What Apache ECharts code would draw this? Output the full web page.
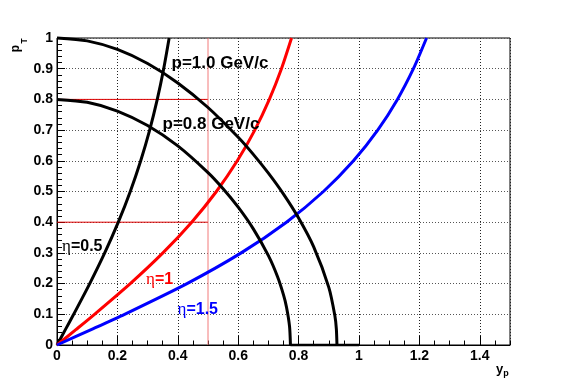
<!DOCTYPE html>
<html>
<head>
<meta charset="utf-8">
<script src="https://cdn.jsdelivr.net/npm/echarts@6/dist/echarts.min.js"></script>
<style>html,body{margin:0;padding:0;background:#fff;}#c{width:567px;height:384px;}</style>
</head>
<body>
<div id="c"></div>
<script>
// ---- data ----
// constant-eta curves: pT samples and matching rapidity y_p
const ptSteps = [0, 0.05, 0.1, 0.2, 0.3, 0.4, 0.5, 0.6, 0.7, 0.8, 0.9, 1.0];
const eta05Y = [0, 0.0277, 0.0552, 0.1084, 0.1580, 0.2030, 0.2427, 0.2772, 0.3068, 0.3320, 0.3533, 0.3714];
const eta10Y = [0, 0.0625, 0.1242, 0.2426, 0.3507, 0.4460, 0.5278, 0.5970, 0.6549, 0.7031, 0.7432, 0.7766];
const eta15Y = [0, 0.1131, 0.2238, 0.4305, 0.6099, 0.7598, 0.8823, 0.9817, 1.0620, 1.1272, 1.1802, 1.2237];
// constant-momentum curves
const p10Y  = [0, 0.1, 0.2, 0.3, 0.4, 0.5, 0.6, 0.65, 0.7, 0.75, 0.8, 0.85, 0.9, 0.92, 0.925, 0.927];
const p10Pt = [1, 0.9906, 0.9627, 0.9168, 0.8536, 0.7736, 0.6765, 0.6209, 0.5596, 0.4914, 0.4134, 0.3194, 0.1877, 0.0959, 0.0524, 0];
const p08Y  = [0, 0.1, 0.2, 0.3, 0.4, 0.5, 0.55, 0.6, 0.65, 0.7, 0.73, 0.75, 0.76, 0.77, 0.773];
const p08Pt = [0.8, 0.7905, 0.7621, 0.7148, 0.6485, 0.5615, 0.5090, 0.4489, 0.3783, 0.2910, 0.2231, 0.1633, 0.1232, 0.0609, 0];
const tailY = [0.773, 1.0];
const tailPt = [0, 0];
// red guide lines
const guideX = 0.5;
const guideLevels = [0.8, 0.4];
// axes
const xTicks = [0, 0.2, 0.4, 0.6, 0.8, 1, 1.2, 1.4];
const yTicks = [0, 0.1, 0.2, 0.3, 0.4, 0.5, 0.6, 0.7, 0.8, 0.9, 1];
// labels
const curveLabels = [
  {text: 'p=1.0 GeV/c', color: '#000'},
  {text: 'p=0.8 GeV/c', color: '#000'},
  {eta: '0.5', color: '#000'},
  {eta: '1', color: '#ff0000'},
  {eta: '1.5', color: '#0000ff'}
];

const zip = (xs, ys) => xs.map((x, i) => [x, ys[i]]);
const FONT = "'Liberation Sans', Arial, Helvetica, sans-serif";

const chart = echarts.init(document.getElementById('c'), null, {renderer: 'canvas'});

const gridBox = {left: 57, right: 57, top: 38, bottom: 39};
const lineSeries = (name, data, color, width, smooth) => ({
  name, type: 'line', data, xAxisIndex: 0, yAxisIndex: 0,
  showSymbol: false, symbol: 'none', smooth: smooth,
  lineStyle: {color, width, join: 'round', cap: 'butt'}, itemStyle: {color}, z: 3, clip: false, silent: true
});

const series = [];
guideLevels.forEach((lv) => {
  series.push(Object.assign(lineSeries('g' + lv, [[0, lv], [guideX, lv]], '#dd0000', 1, false), {z: 2}));
});
series.push(Object.assign(lineSeries('gv', [[guideX, 0], [guideX, 1]], '#f27a7a', 1, false), {z: 2}));
series.push(lineSeries('eta05', zip(eta05Y, ptSteps), '#000000', 3, 0.25));
series.push(lineSeries('eta10', zip(eta10Y, ptSteps), '#ff0000', 3, 0.25));
series.push(lineSeries('eta15', zip(eta15Y, ptSteps), '#0000ff', 3, 0.25));
series.push(lineSeries('p10', zip(p10Y, p10Pt), '#000000', 3, 0.25));
series.push(lineSeries('p08', zip(p08Y, p08Pt), '#000000', 3, 0.25));
series.push(lineSeries('tail', zip(tailY, tailPt), '#000000', 2.5, false));

const labelPos = [
  {x: 171.5, y: 63, size: 17},
  {x: 162.5, y: 124, size: 17},
  {x: 62, y: 246.5, size: 16},
  {x: 146, y: 279.5, size: 16},
  {x: 177.5, y: 309.5, size: 16}
];
const graphics = curveLabels.map((l, i) => {
  const p = labelPos[i];
  if (l.text) {
    return {type: 'text', x: p.x, y: p.y, z: 10, style: {
      text: l.text, fill: l.color, font: 'bold ' + p.size + 'px ' + FONT,
      align: 'left', verticalAlign: 'middle'}};
  }
  return {type: 'text', x: p.x, y: p.y, z: 10, style: {
    text: '{e|\u03b7}{t|=' + l.eta + '}', fill: l.color, align: 'left', verticalAlign: 'middle',
    rich: {
      e: {fontFamily: "'Liberation Serif', 'DejaVu Serif', serif", fontSize: p.size + 1, fontWeight: 'normal', fill: l.color, color: l.color},
      t: {fontFamily: FONT, fontSize: p.size, fontWeight: 'bold', fill: l.color, color: l.color}
    }}};
});
// axis titles
graphics.push({type: 'text', x: 15.5, y: 48.5, rotation: Math.PI / 2, z: 10,
  style: {text: 'p', font: 'bold 12px ' + FONT, fill: '#000', align: 'center', verticalAlign: 'middle'}});
graphics.push({type: 'text', x: 25, y: 41, rotation: Math.PI / 2, z: 10,
  style: {text: 'T', font: 'bold 8.5px ' + FONT, fill: '#000', align: 'center', verticalAlign: 'middle'}});
graphics.push({type: 'text', x: 499.5, y: 369.5, z: 10,
  style: {text: 'y', font: 'bold 13px ' + FONT, fill: '#000', align: 'center', verticalAlign: 'middle'}});
graphics.push({type: 'text', x: 506, y: 374, z: 10,
  style: {text: 'p', font: 'bold 9px ' + FONT, fill: '#000', align: 'center', verticalAlign: 'middle'}});

const option = {
  animation: false,
  backgroundColor: '#fff',
  grid: [
    Object.assign({show: true, borderColor: '#000', borderWidth: 1, backgroundColor: 'transparent'}, gridBox),
    Object.assign({show: false}, gridBox)
  ],
  xAxis: [
    {type: 'value', gridIndex: 0, min: xTicks[0], max: 1.5, interval: xTicks[1] - xTicks[0], position: 'bottom',
     axisLine: {show: true, onZero: false, lineStyle: {color: '#000', width: 1}},
     axisTick: {show: true, inside: true, length: 9, lineStyle: {color: '#000', width: 1}},
     axisLabel: {show: true, margin: 4, showMaxLabel: false, color: '#000', fontFamily: FONT, fontWeight: 'bold', fontSize: 14,
       formatter: (v) => String(+v.toFixed(2))},
     splitLine: {show: true, lineStyle: {color: '#222', width: 1, type: [1, 2]}}},
    {type: 'value', gridIndex: 1, min: 0, max: 1.5, interval: 0.05, position: 'bottom',
     axisLine: {show: false}, axisLabel: {show: false}, splitLine: {show: false},
     axisTick: {show: true, inside: true, length: 4.5, lineStyle: {color: '#000', width: 1}}}
  ],
  yAxis: [
    {type: 'value', gridIndex: 0, min: yTicks[0], max: yTicks[yTicks.length - 1], interval: yTicks[1] - yTicks[0], position: 'left',
     axisLine: {show: true, onZero: false, lineStyle: {color: '#000', width: 1}},
     axisTick: {show: true, inside: true, length: 8, lineStyle: {color: '#000', width: 1}},
     axisLabel: {show: true, margin: 4, color: '#000', fontFamily: FONT, fontWeight: 'bold', fontSize: 14,
       formatter: (v) => String(+v.toFixed(2))},
     splitLine: {show: true, lineStyle: {color: '#555', width: 1, type: [1, 2]}}},
    {type: 'value', gridIndex: 1, min: 0, max: 1, interval: 0.02, position: 'left',
     axisLine: {show: false}, axisLabel: {show: false}, splitLine: {show: false},
     axisTick: {show: true, inside: true, length: 5, lineStyle: {color: '#000', width: 1}}}
  ],
  series: series.concat([{type: 'line', xAxisIndex: 1, yAxisIndex: 1, data: [], showSymbol: false, silent: true}]),
  graphic: graphics
};
chart.setOption(option);
</script>
</body>
</html>
